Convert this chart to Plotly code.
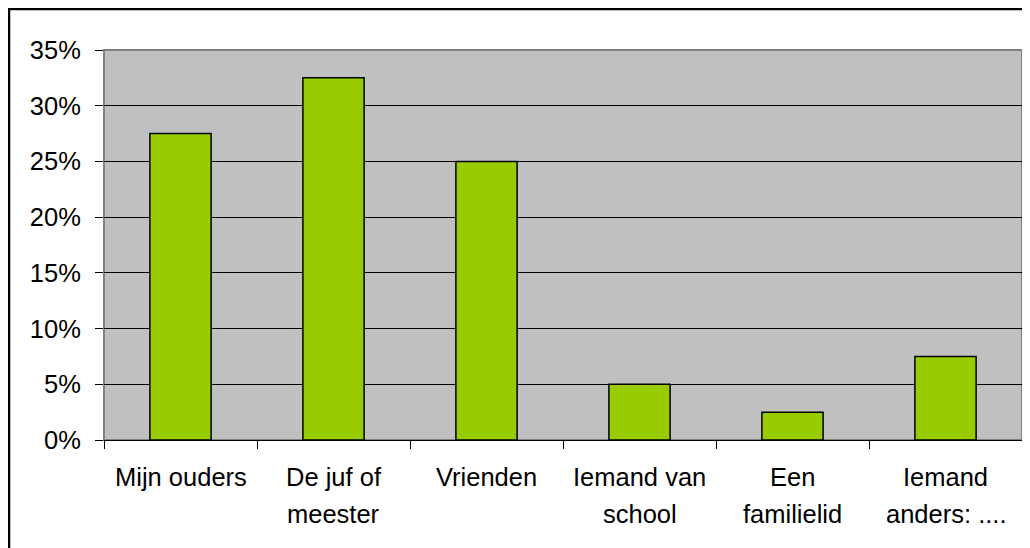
import plotly.graph_objects as go

# data
categories = ["Mijn ouders", "De juf of meester", "Vrienden",
              "Iemand van school", "Een familielid", "Iemand anders: ...."]
label_lines = [["Mijn ouders"], ["De juf of", "meester"], ["Vrienden"],
               ["Iemand van", "school"], ["Een", "familielid"], ["Iemand", "anders: ...."]]
shares = [0.275, 0.325, 0.25, 0.05, 0.025, 0.075]
y_ticks = [0, 0.05, 0.10, 0.15, 0.20, 0.25, 0.30, 0.35]

FONT = "Liberation Sans, Arial, sans-serif"
FS = 25.5
# page body has an 8px margin, so the figure starts at (8, 8)
W, H = 1022, 540
ml, mr, mt, mb = 96, 8, 42, 108
pw, ph = W - ml - mr, H - mt - mb

fig = go.Figure()
fig.add_trace(go.Bar(
    x=categories, y=shares, width=0.4,
    marker=dict(color="#99CC00", line=dict(color="black", width=1.5)),
    hoverinfo="x+y",
))

# category labels, one annotation per line (Excel-like line spacing)
annotations = []
for cat, lines in zip(categories, label_lines):
    for i, line in enumerate(lines):
        annotations.append(dict(
            x=cat, y=0, xref="x", yref="paper", text=line, showarrow=False,
            yanchor="middle", yshift=-37 - 37 * i,
            font=dict(family=FONT, size=FS, color="black"),
        ))

fig.update_layout(
    width=W, height=H,
    margin=dict(l=ml, r=mr, t=mt, b=mb),
    paper_bgcolor="white",
    plot_bgcolor="#C0C0C0",
    showlegend=False,
    annotations=annotations,
    font=dict(family=FONT, size=FS, color="black"),
    xaxis=dict(
        type="category", showticklabels=False, tickson="boundaries",
        ticks="outside", ticklen=8, tickcolor="black", tickwidth=1,
        showgrid=False, showline=True, linecolor="black", linewidth=1,
        zeroline=False,
    ),
    yaxis=dict(
        range=[0, 0.35], tickvals=y_ticks, tickformat=".0%",
        ticks="outside", ticklen=8, tickcolor="black", tickwidth=1,
        ticklabelstandoff=9,
        showgrid=True, gridcolor="black", gridwidth=1,
        showline=False, zeroline=False,
        tickfont=dict(family=FONT, size=FS, color="black"),
    ),
    shapes=[
        # plot area border
        dict(type="rect", xref="paper", yref="paper", x0=0, x1=1, y0=0, y1=1,
             line=dict(color="#808080", width=2), layer="below"),
        # outer chart border
        dict(type="rect", xref="paper", yref="paper",
             x0=-(ml - 1) / pw, x1=1 + 40 / pw,
             y0=-(mb + 40) / ph, y1=1 + (mt - 1) / ph,
             line=dict(color="black", width=2.5)),
    ],
)

fig.write_html("out.html")
